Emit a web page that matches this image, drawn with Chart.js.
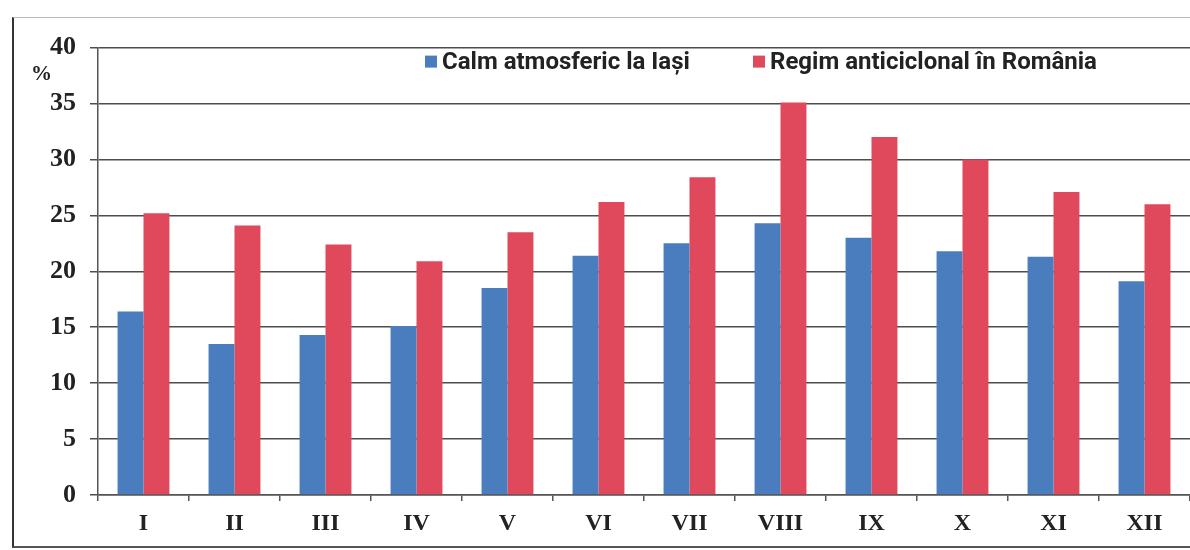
<!DOCTYPE html>
<html>
<head>
<meta charset="utf-8">
<script src="https://cdn.jsdelivr.net/npm/chart.js@4"></script>
<style>
  html, body { margin: 0; padding: 0; background: #fff; }
  #frame {
    position: absolute; left: 12px; top: 17px; width: 1176px; height: 528px;
    border-left: 2px solid #333; border-top: 1px solid #bbb; border-bottom: 2px solid #555;
  }
  #frame canvas { display: block; }
</style>
</head>
<body>
<div id="frame"><canvas id="calmChart" width="1176" height="528"></canvas></div>
<script>
var months = ['I', 'II', 'III', 'IV', 'V', 'VI', 'VII', 'VIII', 'IX', 'X', 'XI', 'XII'];
var calmIasi = [16.4, 13.5, 14.3, 15.1, 18.5, 21.4, 22.5, 24.3, 23.0, 21.8, 21.3, 19.1];
var anticiclonRomania = [25.2, 24.1, 22.4, 20.9, 23.5, 26.2, 28.4, 35.1, 32.0, 30.0, 27.1, 26.0];
var yTicks = [0, 5, 10, 15, 20, 25, 30, 35, 40];

var serif = '"Liberation Serif", "DejaVu Serif", serif';
var sans = 'Roboto, "Liberation Sans", sans-serif';

// legend drawn inside the plot area, plus the "%" unit label
var insideLegend = {
    id: 'insideLegend',
    afterDraw: function (chart) {
        var ctx = chart.ctx;
        var area = chart.chartArea;
        var items = [
            { x: area.left + 327, ds: chart.data.datasets[0] },
            { x: area.left + 655, ds: chart.data.datasets[1] }
        ];
        var cy = area.top + 14;
        ctx.save();
        ctx.font = 'bold 24px ' + sans;
        ctx.textBaseline = 'middle';
        ctx.textAlign = 'left';
        items.forEach(function (it) {
            ctx.fillStyle = it.ds.backgroundColor;
            ctx.fillRect(it.x, cy - 6, 12, 12);
            ctx.fillStyle = '#222';
            ctx.fillText(it.ds.label, it.x + 17, cy + 1);
        });
        ctx.font = 'bold 21px ' + serif;
        ctx.fillStyle = '#222';
        ctx.fillText('%', 17, chart.scales.y.getPixelForValue(37.6));
        ctx.restore();
    }
};

var config = {
    type: 'bar',
    data: {
        labels: months,
        datasets: [
            {
                label: 'Calm atmosferic la Iași',
                data: calmIasi,
                backgroundColor: '#4a7dbe',
                categoryPercentage: 0.57,
                barPercentage: 1.0
            },
            {
                label: 'Regim anticiclonal în România',
                data: anticiclonRomania,
                backgroundColor: '#e0485c',
                categoryPercentage: 0.57,
                barPercentage: 1.0
            }
        ]
    },
    options: {
        responsive: false,
        animation: false,
        layout: { padding: { top: 28, right: 0, left: 0, bottom: 0 } },
        scales: {
            x: {
                grid: {
                    display: true,
                    drawOnChartArea: false,
                    drawTicks: true,
                    tickLength: 6,
                    color: '#555',
                    lineWidth: 1.5
                },
                border: { color: '#555', width: 1.5 },
                ticks: {
                    color: '#222',
                    padding: 8,
                    font: { family: serif, size: 24, weight: 'bold' }
                },
                afterFit: function (scale) { scale.height = 51; }
            },
            y: {
                min: 0,
                max: 40,
                afterBuildTicks: function (scale) {
                    scale.ticks = yTicks.map(function (v) { return { value: v }; });
                },
                grid: {
                    color: '#4d4d4d',
                    lineWidth: 1.5,
                    tickLength: 8
                },
                border: { color: '#555', width: 1.5 },
                ticks: {
                    color: '#222',
                    padding: 14,
                    font: { family: serif, size: 26, weight: 'bold' }
                },
                afterFit: function (scale) { scale.width = 84; }
            }
        },
        plugins: {
            legend: { display: false },
            tooltip: { enabled: false }
        }
    },
    plugins: [insideLegend]
};

var ctx = document.getElementById('calmChart').getContext('2d');
var chart = new Chart(ctx, config);
</script>
</body>
</html>
